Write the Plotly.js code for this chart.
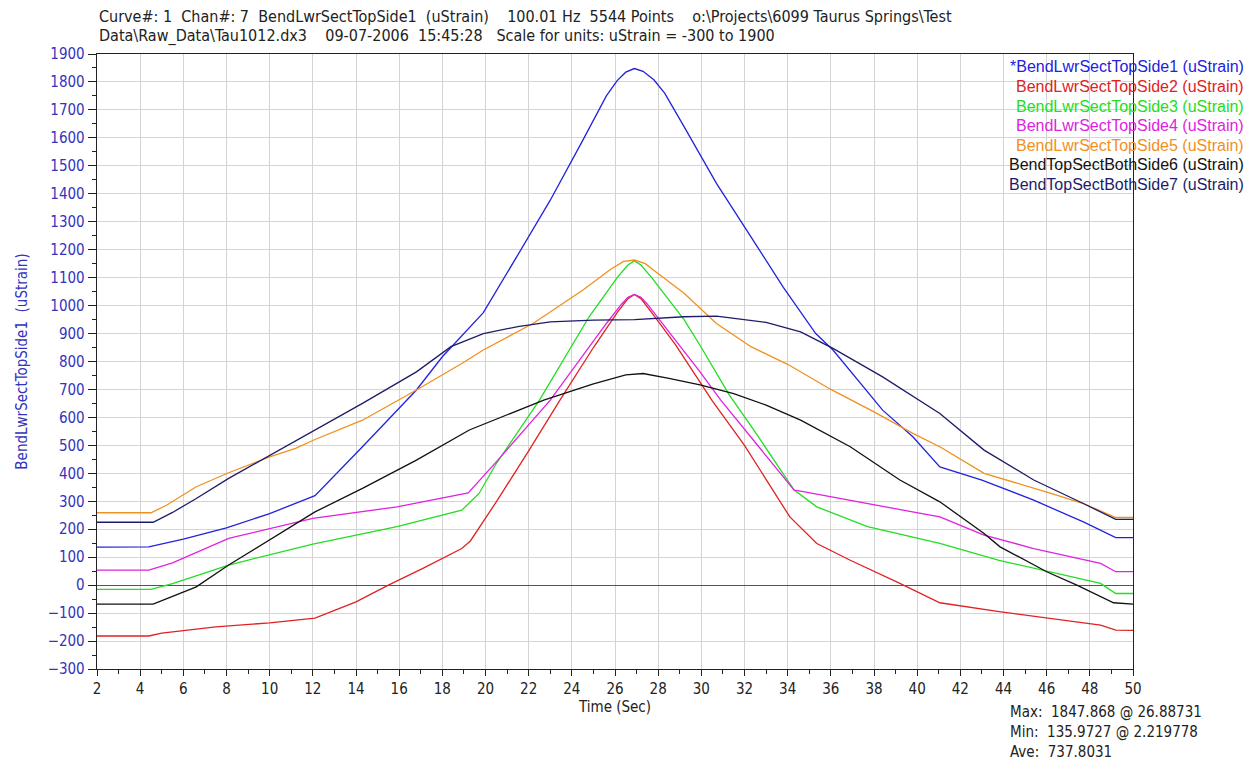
<!DOCTYPE html>
<html>
<head>
<meta charset="utf-8">
<script src="https://cdn.plot.ly/plotly-3.0.1.min.js"></script>
<style>html,body{margin:0;padding:0;background:#fff}#chart{width:1253px;height:760px}</style>
</head>
<body>
<div id="chart"></div>
<script>
// ---- data ----
const seriesNames = [
  "*BendLwrSectTopSide1 (uStrain)",
  "BendLwrSectTopSide2 (uStrain)",
  "BendLwrSectTopSide3 (uStrain)",
  "BendLwrSectTopSide4 (uStrain)",
  "BendLwrSectTopSide5 (uStrain)",
  "BendTopSectBothSide6 (uStrain)",
  "BendTopSectBothSide7 (uStrain)"
];
const seriesColors = ["#2222dd", "#e02222", "#22dd22", "#e022e0", "#f0901e", "#111111", "#1c1c6a"];

const t1 = [2, 4.4, 6, 8, 10, 12.1, 14.3, 16.8, 18, 19.9, 21.45, 23, 24.5, 25.6, 26.1, 26.5, 26.9, 27.3, 27.8, 28.3, 29.2, 30.7, 32.3, 33.8, 35.3, 36.1, 38.4, 39.8, 41.05, 43, 45.4, 47.7, 49.2, 50];
const v1 = [136, 137, 165, 205, 256, 320, 495, 698, 817, 975, 1175, 1377, 1590, 1750, 1805, 1835, 1848, 1838, 1808, 1760, 1640, 1437, 1246, 1065, 900, 841, 626, 531, 423, 376, 304, 226, 170, 170];

const t2 = [2, 4.4, 5, 7.5, 10, 12.1, 14, 15.5, 17.1, 18.9, 19.3, 20.5, 22, 23.45, 25, 26.1, 26.6, 26.9, 27.2, 27.7, 28.8, 30.5, 32, 34.1, 35.35, 36.9, 39.2, 41.05, 43.8, 46.9, 48.5, 49.2, 50];
const v2 = [-182, -182, -172, -149, -135, -118, -60, 0, 60, 131, 158, 298, 480, 662, 850, 975, 1025, 1040, 1025, 975, 860, 660, 500, 244, 149, 89, 6, -63, -95, -125, -143, -161, -162];

const t3 = [2, 4.5, 5.5, 8.1, 12, 15.9, 18.9, 19.7, 20.5, 22.5, 24.8, 26.1, 26.6, 26.9, 27.2, 27.7, 29.2, 30, 31.3, 32.3, 34.3, 35.35, 37.7, 41.05, 43.8, 46.9, 48.5, 49.2, 50];
const v3 = [-15, -15, 5, 72, 147, 209, 268, 328, 435, 662, 960, 1100, 1145, 1160, 1145, 1100, 950, 850, 680, 570, 340, 280, 209, 149, 89, 36, 6, -30, -30];

const t4 = [2, 4.4, 5.5, 8.1, 12, 15.9, 19.2, 20.5, 23, 25.6, 26.3, 26.6, 26.9, 27.2, 27.5, 28.2, 29.94, 30.9, 34.3, 34.6, 37.7, 41.05, 43.1, 45.4, 48.5, 49.2, 50];
const v4 = [54, 54, 80, 167, 239, 280, 330, 441, 662, 936, 1005, 1030, 1040, 1030, 1005, 936, 763, 662, 340, 336, 292, 244, 179, 131, 78, 48, 48];

const t5 = [2, 4.5, 5.2, 6.6, 8.1, 10, 11.2, 12.1, 14.3, 16.8, 18.9, 19.9, 22.2, 24.5, 25.8, 26.4, 26.9, 27.4, 27.9, 29.2, 30.7, 32.3, 34, 36, 38, 39.8, 41.05, 43.1, 46.2, 47.7, 49.2, 50];
const v5 = [259, 259, 285, 352, 402, 459, 489, 521, 590, 698, 793, 841, 936, 1055, 1130, 1158, 1163, 1150, 1120, 1044, 936, 853, 790, 700, 620, 543, 495, 400, 328, 292, 242, 242];

const t6 = [2, 4.6, 5.5, 6.6, 8.1, 10, 12.1, 14.3, 16.8, 19.25, 20.5, 22.7, 25, 26.5, 27.3, 28.5, 29.94, 31.5, 33, 34.6, 36.9, 39.2, 41.05, 43.1, 43.84, 46, 47.4, 49.1, 50];
const v6 = [-68, -68, -40, -6, 72, 161, 262, 346, 447, 555, 593, 662, 720, 752, 757, 740, 716, 685, 644, 590, 495, 376, 298, 185, 137, 48, 0, -63, -68];

const t7 = [2, 4.6, 5.5, 6.6, 8.1, 10, 12.1, 14.3, 16.8, 18.4, 19.9, 21.5, 23, 25, 26.9, 29.2, 30.7, 33, 34.6, 36.1, 38.4, 41.05, 43.1, 45.4, 47.7, 49.2, 50];
const v7 = [225, 225, 260, 310, 382, 465, 557, 650, 763, 853, 900, 925, 942, 948, 950, 960, 962, 940, 906, 847, 745, 614, 483, 376, 292, 235, 235];

const titleLines = [
  "Curve#: 1  Chan#: 7  BendLwrSectTopSide1  (uStrain)    100.01 Hz  5544 Points    o:\\Projects\\6099 Taurus Springs\\Test",
  "Data\\Raw_Data\\Tau1012.dx3    09-07-2006  15:45:28   Scale for units: uStrain = -300 to 1900"
];
const statLines = ["Max:  1847.868 @ 26.88731", "Min:  135.9727 @ 2.219778", "Ave:  737.8031"];
const xTitle = "Time (Sec)";
const yTitle = "BendLwrSectTopSide1  (uStrain)";

// ---- build ----
const T = [t1, t2, t3, t4, t5, t6, t7];
const V = [v1, v2, v3, v4, v5, v6, v7];
const traces = T.map((t, i) => ({
  x: t, y: V[i], type: "scatter", mode: "lines",
  name: seriesNames[i], line: {color: seriesColors[i], width: 1.3},
  showlegend: false, hoverinfo: "skip"
}));

const narrow = "'Liberation Sans Narrow', 'Arial Narrow', 'DejaVu Sans Condensed', sans-serif";
const reg = "'Liberation Sans', Arial, sans-serif";

const W = 1253, H = 760, L = 97, R = 120, TOP = 54, B = 91;
const pw = W - L - R, ph = H - TOP - B;
const px2x = p => (p - L) / pw;
const py2y = p => (H - B - p) / ph;

const annotations = [];
seriesNames.forEach((n, i) => {
  annotations.push({
    text: n, xref: "paper", yref: "paper", x: px2x(1246), y: py2y(67 + i * 19.5),
    xanchor: "right", yanchor: "middle", showarrow: false,
    font: {family: reg, size: 16, color: seriesColors[i]}
  });
});
statLines.forEach((s, i) => {
  annotations.push({
    text: s, xref: "paper", yref: "paper", x: px2x(1008), y: py2y(712 + i * 20),
    xanchor: "left", yanchor: "middle", showarrow: false,
    font: {family: narrow, size: 15, color: "#222"}
  });
});
titleLines.forEach((s, i) => {
  annotations.push({
    text: s, xref: "paper", yref: "paper", x: px2x(97), y: py2y(16 + i * 20),
    xanchor: "left", yanchor: "middle", showarrow: false,
    font: {family: narrow, size: 16, color: "#222"}
  });
});

const layout = {
  width: W, height: H,
  margin: {l: L, r: R, t: TOP, b: B, pad: 0},
  paper_bgcolor: "#fff", plot_bgcolor: "#fff",
  showlegend: false,
  xaxis: {
    range: [2, 50], dtick: 2, tick0: 2,
    showgrid: true, gridcolor: "#d4d4d4", gridwidth: 1,
    zeroline: false, showline: true, linecolor: "#222", linewidth: 1.3, mirror: true,
    ticks: "outside", ticklen: 6, tickcolor: "#222",
    minor: {dtick: 1, ticks: "outside", ticklen: 4, tickcolor: "#222", showgrid: false},
    tickfont: {family: narrow, size: 15, color: "#222"},
    title: {text: xTitle, font: {family: narrow, size: 15, color: "#222"}, standoff: 2}
  },
  yaxis: {
    range: [-300, 1900], dtick: 100, tick0: 0,
    showgrid: true, gridcolor: "#d4d4d4", gridwidth: 1,
    zeroline: true, zerolinecolor: "#555", zerolinewidth: 1.2,
    showline: true, linecolor: "#222", linewidth: 1.3, mirror: true,
    ticks: "outside", ticklen: 8, tickcolor: "#222",
    minor: {dtick: 50, ticks: "outside", ticklen: 4, tickcolor: "#222", showgrid: false},
    tickfont: {family: narrow, size: 15, color: "#3333bb"},
    title: {text: yTitle, font: {family: narrow, size: 15, color: "#3333bb"}, standoff: 16}
  },
  annotations: annotations
};

Plotly.newPlot("chart", traces, layout, {displayModeBar: false, staticPlot: true});
</script>
</body>
</html>
